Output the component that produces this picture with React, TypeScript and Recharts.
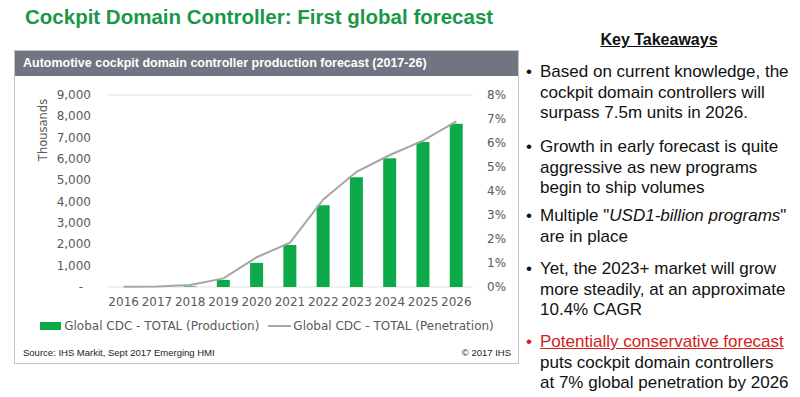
import { ComposedChart, Bar, Line, XAxis, YAxis, CartesianGrid, Legend } from 'recharts';

const years = ['2016', '2017', '2018', '2019', '2020', '2021', '2022', '2023', '2024', '2025', '2026'];
const production = [0, 0, 30, 330, 1130, 1970, 3830, 5140, 6030, 6800, 7650];
const penetration = [0.0001, 0.0002, 0.0008, 0.0036, 0.0124, 0.0185, 0.0365, 0.048, 0.055, 0.061, 0.069];
const leftTicks = [0, 1000, 2000, 3000, 4000, 5000, 6000, 7000, 8000, 9000];
const rightTicks = [0, 0.01, 0.02, 0.03, 0.04, 0.05, 0.06, 0.07, 0.08];

const bullets = [
  { top: 62, lines: ['Based on current knowledge, the', 'cockpit domain controllers will', 'surpass 7.5m units in 2026.'] },
  { top: 137, lines: ['Growth in early forecast is quite', 'aggressive as new programs', 'begin to ship volumes'] },
  { top: 206, lines: [] as string[] },
  { top: 259, lines: ['Yet, the 2023+ market will grow', 'more steadily, at an approximate', '10.4% CAGR'] },
  { top: 332, lines: [] as string[] },
];

const data = years.map((year, i) => ({
  year,
  production: production[i],
  penetration: penetration[i],
}));

const GREEN = '#0daa4a';
const GREY_LINE = '#a6a6a6';
const AXIS_TEXT = '#595959';
const FONT = '"DejaVu Sans", Verdana, sans-serif';
const ARIAL = '"Liberation Sans", Arial, sans-serif';

const LeftTick = ({ x, y, payload }: any) => (
  <text
    x={payload.value === 0 ? x - 8 : x}
    y={y}
    dy={4}
    textAnchor="end"
    fill={AXIS_TEXT}
    fontSize={12}
    fontFamily={FONT}
  >
    {payload.value === 0 ? '-' : payload.value.toLocaleString('en-US')}
  </text>
);

const LegendBox = () => (
  <div
    style={{
      display: 'flex',
      justifyContent: 'center',
      alignItems: 'center',
      fontFamily: FONT,
      fontSize: 12,
      color: AXIS_TEXT,
      height: 18,
      lineHeight: '18px',
      whiteSpace: 'nowrap',
    }}
  >
    <span style={{ display: 'inline-block', width: 21, height: 8, background: GREEN, marginRight: 3 }} />
    <span>Global CDC - TOTAL (Production)</span>
    <span style={{ display: 'inline-block', width: 23, height: 2, background: GREY_LINE, margin: '0 2px 0 9px' }} />
    <span>Global CDC - TOTAL (Penetration)</span>
  </div>
);

export default function App() {
  return (
    <div style={{ position: 'absolute', left: 0, top: 0, width: 800, height: 397, background: '#fff', overflow: 'hidden' }}>
      <div
        style={{
          position: 'absolute',
          left: 25,
          top: 5,
          fontFamily: ARIAL,
          fontWeight: 'bold',
          fontSize: 20.5,
          color: '#1a9848',
          whiteSpace: 'nowrap',
        }}
      >
        Cockpit Domain Controller: First global forecast
      </div>

      {/* chart box */}
      <div
        style={{
          position: 'absolute',
          left: 14,
          top: 50,
          width: 503,
          height: 312,
          border: '1px solid #c4c4c4',
        }}
      >
        <div
          style={{
            height: 25,
            background: '#6f7682',
            color: '#fff',
            fontFamily: ARIAL,
            fontWeight: 'bold',
            fontSize: 12.5,
            lineHeight: '25px',
            paddingLeft: 8,
            whiteSpace: 'nowrap',
          }}
        >
          Automotive cockpit domain controller production forecast (2017-26)
        </div>
        <div style={{ position: 'absolute', left: 0, top: 26 }}>
          <ComposedChart width={504} height={262} data={data} margin={{ top: 18, right: 0, left: 0, bottom: 0 }}>
            <CartesianGrid vertical={false} stroke="#e3e3e3" />
            <XAxis
              dataKey="year"
              axisLine={false}
              tickLine={false}
              height={30}
              tick={{ fill: AXIS_TEXT, fontSize: 12, fontFamily: FONT }}
              tickMargin={4}
              interval={0}
            />
            <YAxis
              yAxisId="left"
              width={92}
              domain={[0, 9000]}
              ticks={leftTicks}
              interval={0}
              axisLine={false}
              tickLine={false}
              tick={<LeftTick />}
              tickMargin={10}
              label={({ viewBox }: any) => (
                <text
                  x={viewBox.x + 28}
                  y={viewBox.y + 35}
                  transform={`rotate(-90, ${viewBox.x + 28}, ${viewBox.y + 35})`}
                  textAnchor="middle"
                  dominantBaseline="central"
                  fill={AXIS_TEXT}
                  fontSize={11.5}
                  fontFamily={FONT}
                >
                  Thousands
                </text>
              )}
            />
            <YAxis
              yAxisId="right"
              orientation="right"
              width={46}
              domain={[0, 0.08]}
              ticks={rightTicks}
              interval={0}
              axisLine={false}
              tickLine={false}
              tickMargin={8}
              tickFormatter={(v: number) => `${Math.round(v * 100)}%`}
              tick={{ fill: AXIS_TEXT, fontSize: 12, fontFamily: FONT }}
            />
            <Bar yAxisId="left" dataKey="production" fill={GREEN} barSize={13} isAnimationActive={false} />
            <Line
              yAxisId="right"
              dataKey="penetration"
              stroke={GREY_LINE}
              strokeWidth={2}
              dot={false}
              type="linear"
              isAnimationActive={false}
            />
            <Legend verticalAlign="bottom" height={22} content={<LegendBox />} />
          </ComposedChart>
        </div>
        <div
          style={{
            position: 'absolute',
            left: 8,
            top: 296,
            fontFamily: ARIAL,
            fontSize: 9.5,
            color: '#222',
            whiteSpace: 'nowrap',
          }}
        >
          Source: IHS Markit, Sept 2017 Emerging HMI
        </div>
        <div
          style={{
            position: 'absolute',
            right: 7,
            top: 296,
            fontFamily: ARIAL,
            fontSize: 9.5,
            color: '#222',
            whiteSpace: 'nowrap',
          }}
        >
          © 2017 IHS
        </div>
      </div>

      {/* key takeaways */}
      <div
        style={{
          position: 'absolute',
          left: 520,
          width: 278,
          top: 31,
          textAlign: 'center',
          fontFamily: ARIAL,
          fontWeight: 'bold',
          fontSize: 16,
          textDecoration: 'underline',
          color: '#111',
        }}
      >
        Key Takeaways
      </div>
      {bullets.map((b, i) => (
        <div
          key={i}
          style={{
            position: 'absolute',
            left: 526,
            top: b.top,
            fontFamily: ARIAL,
            fontSize: 17,
            lineHeight: '20.5px',
            color: i === 4 ? '#d42020' : '#111',
            whiteSpace: 'nowrap',
          }}
        >
          <span style={{ position: 'absolute', left: 0, top: 0 }}>•</span>
          <div style={{ marginLeft: 14, color: '#111' }}>
            {i === 2 ? (
              <>
                <div>
                  Multiple "<i>USD1-billion programs</i>"
                </div>
                <div>are in place</div>
              </>
            ) : i === 4 ? (
              <>
                <div style={{ color: '#d42020', textDecoration: 'underline' }}>Potentially conservative forecast</div>
                <div>puts cockpit domain controllers</div>
                <div>at 7% global penetration by 2026</div>
              </>
            ) : (
              b.lines.map((l, j) => <div key={j}>{l}</div>)
            )}
          </div>
        </div>
      ))}
    </div>
  );
}
